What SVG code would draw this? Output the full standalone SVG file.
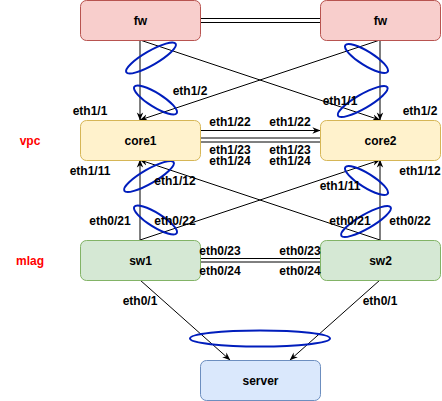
<svg xmlns="http://www.w3.org/2000/svg" width="442" height="401" viewBox="0 0 442 401">
<style>
text{font-family:"Liberation Sans",Arial,Helvetica,sans-serif;font-size:12px;font-weight:bold;fill:#000;text-anchor:middle;dominant-baseline:central}
.red{fill:#ff0000}
.fw{fill:#f8cecc;stroke:#b85450}
.core{fill:#fff2cc;stroke:#d6b656}
.sw{fill:#d5e8d4;stroke:#82b366}
.srv{fill:#dae8fc;stroke:#6c8ebf}
.e{stroke:#000;stroke-width:1;fill:none}
.a{marker-end:url(#arr)}
.lag{fill:none;stroke:#001dbc;stroke-width:2}
</style>
<defs>
<marker id="arr" viewBox="0 0 10 10" refX="9.5" refY="5" markerWidth="8" markerHeight="8" orient="auto" markerUnits="userSpaceOnUse">
<path d="M0,1 L10,5 L0,9 L3,5 z" fill="#000"/>
</marker>
</defs>

<g id="connectors">
<line class="e" x1="200" y1="18.5" x2="320" y2="18.5"/>
<line class="e" x1="200" y1="22.5" x2="320" y2="22.5"/>
<line class="e a" x1="140" y1="40" x2="140" y2="120"/>
<line class="e a" x1="140" y1="40" x2="380" y2="120"/>
<line class="e a" x1="380" y1="40" x2="140" y2="120"/>
<line class="e a" x1="380" y1="40" x2="380" y2="120"/>
<line class="e a" x1="200" y1="130.5" x2="320" y2="130.5"/>
<line class="e" x1="200" y1="138" x2="320" y2="138"/>
<line class="e" x1="200" y1="142" x2="320" y2="142"/>
<line class="e a" x1="140" y1="240" x2="140" y2="160"/>
<line class="e a" x1="140" y1="240" x2="380" y2="160"/>
<line class="e a" x1="380" y1="240" x2="140" y2="160"/>
<line class="e a" x1="380" y1="240" x2="380" y2="160"/>
<line class="e" x1="200" y1="258.5" x2="320" y2="258.5"/>
<line class="e" x1="200" y1="262" x2="320" y2="262"/>
<line class="e a" x1="140" y1="280" x2="230" y2="360"/>
<line class="e a" x1="380" y1="280" x2="290" y2="360"/>
</g>

<g id="lags">
<ellipse class="lag" cx="151" cy="58" rx="28.5" ry="7" transform="rotate(-30 151 58)"/>
<ellipse class="lag" cx="155.5" cy="100" rx="25" ry="7" transform="rotate(32 155.5 100)"/>
<ellipse class="lag" cx="366.5" cy="58.5" rx="25" ry="7" transform="rotate(32 366.5 58.5)"/>
<ellipse class="lag" cx="362.7" cy="101.5" rx="28.5" ry="7" transform="rotate(-30 362.7 101.5)"/>
<ellipse class="lag" cx="149" cy="176.5" rx="28.5" ry="7" transform="rotate(-30 149 176.5)"/>
<ellipse class="lag" cx="155.5" cy="220" rx="25" ry="7" transform="rotate(32 155.5 220)"/>
<ellipse class="lag" cx="366.5" cy="180.5" rx="25" ry="7" transform="rotate(32 366.5 180.5)"/>
<ellipse class="lag" cx="366" cy="221.5" rx="28.5" ry="7" transform="rotate(-30 366 221.5)"/>
<ellipse class="lag" cx="260" cy="338.5" rx="70" ry="8"/>
</g>

<g id="fw1"><rect class="fw" x="80.5" y="0.5" width="120" height="40" rx="6"/><text x="140.5" y="20.5">fw</text></g>
<g id="fw2"><rect class="fw" x="320.5" y="0.5" width="120" height="40" rx="6"/><text x="380.5" y="20.5">fw</text></g>
<g id="core1"><rect class="core" x="80.5" y="120.5" width="120" height="40" rx="6"/><text x="140.5" y="140.5">core1</text></g>
<g id="core2"><rect class="core" x="320.5" y="120.5" width="120" height="40" rx="6"/><text x="380.5" y="140.5">core2</text></g>
<g id="sw1"><rect class="sw" x="80.5" y="240.5" width="120" height="40" rx="6"/><text x="140.5" y="260.5">sw1</text></g>
<g id="sw2"><rect class="sw" x="320.5" y="240.5" width="120" height="40" rx="6"/><text x="380.5" y="260.5">sw2</text></g>
<g id="server"><rect class="srv" x="200.5" y="360.5" width="120" height="40" rx="6"/><text x="260.5" y="380.5">server</text></g>

<g id="labels">
<text class="red" x="30" y="141">vpc</text>
<text class="red" x="30" y="261">mlag</text>
<text x="190" y="91">eth1/2</text>
<text x="90" y="111">eth1/1</text>
<text x="340" y="101">eth1/1</text>
<text x="420" y="111">eth1/2</text>
<text x="230" y="121.5">eth1/22</text>
<text x="290" y="121.5">eth1/22</text>
<text x="230" y="150">eth1/23</text>
<text x="290" y="150">eth1/23</text>
<text x="230" y="160.5">eth1/24</text>
<text x="290" y="160.5">eth1/24</text>
<text x="90" y="171">eth1/11</text>
<text x="175" y="181">eth1/12</text>
<text x="420" y="171">eth1/12</text>
<text x="340" y="186">eth1/11</text>
<text x="110" y="221">eth0/21</text>
<text x="175" y="221">eth0/22</text>
<text x="350" y="221">eth0/21</text>
<text x="410" y="221">eth0/22</text>
<text x="220" y="251">eth0/23</text>
<text x="300" y="251">eth0/23</text>
<text x="220" y="270.5">eth0/24</text>
<text x="300" y="270.5">eth0/24</text>
<text x="140" y="301">eth0/1</text>
<text x="380" y="301">eth0/1</text>
</g>
</svg>
